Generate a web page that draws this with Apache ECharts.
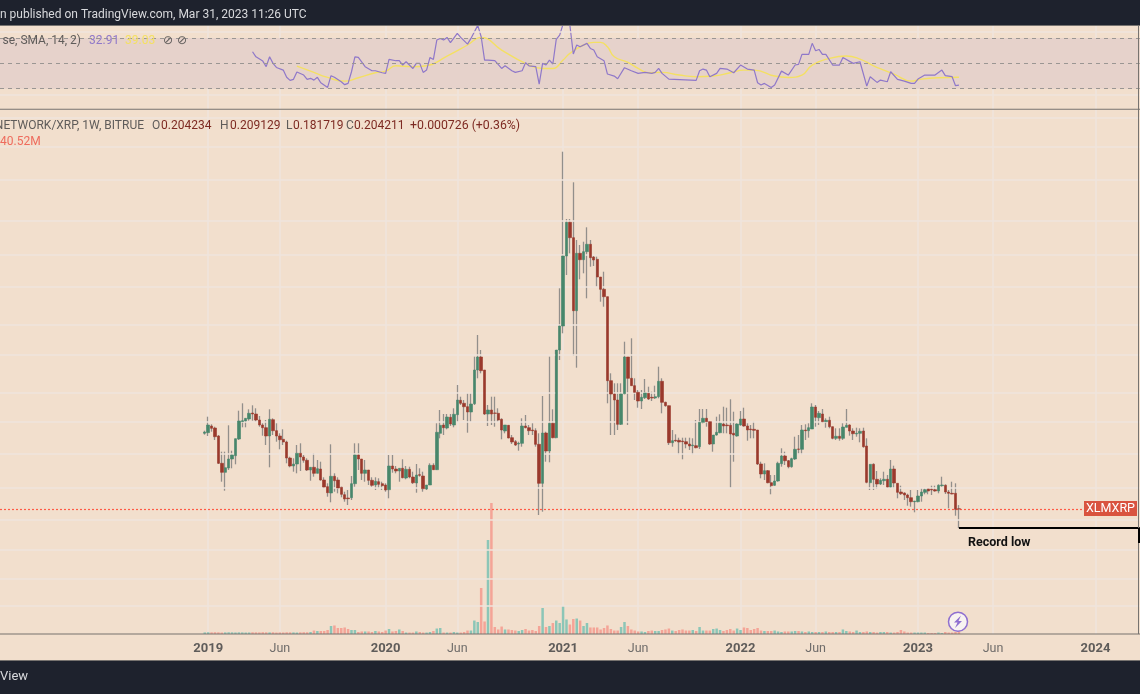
<!DOCTYPE html>
<html><head><meta charset="utf-8">
<style>html,body{margin:0;padding:0;background:#f2dfcd}#c{width:1140px;height:694px}</style>
<script src="https://cdn.jsdelivr.net/npm/echarts@6/dist/echarts.min.js"></script>
</head><body><div id="c"></div>
<script>
// Prices are held in log-scale points relative to the last close (0 = 0.2042, 1 point = about 0.61 %).
const opens=[75.7,76.3,83,81,73,45.7,36.7,41,50,53.3,70,87.3,88,90,96,95,89,84,81.3,73,89.3,78.3,73,69.7,67,51,43,45,55.7,52,48.7,39,41.7,35.7,40,29,22.3,16,32.7,29,21.7,14.3,11,11.3,25.3,54,50,35.7,39,28.7,24,27.3,25.3,24,19.3,43,40,38,40.7,31,39.7,32,26,34.3,33,20,24,43.7,39.3,75.7,84,81,91.7,84,94.3,108.7,105.7,102.3,97,105.3,139,152,139,95,99,96,95.7,89.7,78,83.7,71.3,67.3,65,65.7,83,81.3,79,78.3,64.7,25.7,76,58,85.7,71.3,159,183,253,286.7,271.3,198.3,255.7,249.3,257.3,264.7,252,249.7,232,219.7,212.3,128.3,115,109,84.7,115.3,152,130.7,123.3,116.7,108,111.3,115.7,111.7,111,112.3,127.7,106.7,103.3,66.3,68.7,68.7,68,67.3,65,63.3,63.3,62.3,86.7,90.7,87.3,65,74,76.3,85,84,83.7,75.7,73,84,90,83,80,79.7,79,45,35,38.3,26.3,23.7,28,45.3,53,48.3,42.3,50,60,59.7,79,78.3,80,102,91.3,95,87.3,88.7,82.3,70.7,72.7,70.7,81.7,84,78,75,75.7,78,63,26.3,44.7,29.7,25,28.3,29.7,22,40,25.7,17,16,14,11.3,7.3,7.3,13,16.7,20,19.7,19.3,18,23.3,23.7,17,15.7,15.7,0.2];
const closes=[77,84,80.7,72.3,45.7,36.7,41.3,50,54,70.3,88,88.3,90.7,95.7,95,89,84,81.3,73,89.7,78.3,73,69.3,67,51,43,45,55.7,52,48.7,39,41.7,35.7,40.3,29,22,16.3,32.7,28.3,21,14.7,10,10.3,25.3,54,50,35.7,39,28.7,23.7,27.7,24.7,23.3,19,43,40,38,40.7,31.3,39.7,32,26.3,34,33.7,20.3,24,43.7,39.3,76.7,83.7,81.3,92,85,94.7,109,105.7,102.3,97,105,139,152,138.3,95,99,95,95.7,89,79,84,71,67,64,65.7,83,81.3,78.3,78.3,64.7,25.7,76,58,85.7,71.3,159,183,253,286.7,271.3,198.3,255.7,249.3,257.3,264.7,251.3,249,232,219.7,212.3,128.3,115,109,84.7,115,152,130.7,123.3,116.7,108,111.7,116,110,111,112.3,127.7,106.7,103.3,66.3,68.3,68,67,67.3,65,63,64,61.3,86.7,90.7,87.3,65,74,76.7,85.7,83,83.3,75,74,85,90,83,79,79.3,78.7,45,35,38.3,26.3,23.3,28,45.7,53,48.3,42.3,50.3,59.7,59.7,79,78.3,81.3,102,91.7,95.7,87.3,88.7,82.3,70.7,72.7,70.7,82,83.7,78,75.3,75.7,77.7,62.3,26.7,44.7,29.7,25,28.7,29.7,22,40,26,16.7,15.3,14,11.3,7.3,8,13,17,19.3,18,19,18,23.7,24,17,15.7,15,-0.3,0];
const lows=[74.3,73,77.3,69,45,27.3,18.3,39,40.7,44.7,69,81.7,81.7,88.3,88.3,87.3,82.3,73.3,64,41.7,74,67.3,59.7,64,45.7,41.7,37.3,35.7,38,46.3,38,28.3,32.3,35.7,28.3,20.7,12.3,6.7,17.3,15.7,11.7,7.3,4,9,22.3,39,29,27.3,24,22.3,19,20.7,19,17.3,10.7,36.3,35.7,27.3,30.7,29.7,30.7,25,16.3,32.3,17.3,19,24,39,39,70.7,74,79.7,83,81.7,87.3,104,89,76.3,87.3,104,130.7,135.7,94,83,84,82.3,87.3,69.7,75.7,70.7,65,63,58.3,62.3,80.7,74,74,62.3,-6,-2.7,47.3,46.7,70.7,70.7,149,175.7,234,255.7,153.3,141.3,229.7,235.7,210.7,242.3,243,222.3,207.3,202.3,105.7,74,74,79,84,114.7,84,123.3,109,101.3,100,110,109,108,110,110.7,95.7,102.3,64,62.3,67.3,54.7,49.7,60.7,59,54.7,60.7,60,85.7,82.3,64,57.3,73.3,75.7,75.7,75.7,21.3,47.3,72.3,83.3,82.3,68.3,70.7,70.7,44,30.7,29,25.7,14.7,23.3,27.3,42.3,44,40.7,41.3,49,54.7,54.7,69,71.3,80,82.3,84,86.7,81.3,80.7,69.7,69,68.3,69,81.7,73.3,69,72.3,66.7,61.3,25.7,19,19,20,24,24,21.3,21.3,20.7,10.7,14,9,3.3,2.3,-3.3,6.7,7.3,14.7,14.7,14,17.3,15.7,22.3,15,0.7,14.7,-6.7,-19];
const highs=[78.3,92.3,84.7,82.3,74,57.3,57.3,83.7,58.3,70.3,98.3,105.7,90.7,99.7,103.7,100.7,93,85.7,89,99.7,90.7,85.7,75.7,79.7,68.3,52.3,50.7,64,65.7,54,50.7,41.7,55.7,49,47.3,31.7,25.7,64.7,35.7,31.7,22.3,17.3,19,33,65.7,65.7,50,49,39,31.7,31.7,30.7,27.3,25.7,54,54,43,40.7,49.7,43,42.3,37.3,45,40.7,37.3,24,45.7,45.7,85.7,99,95,95,95,100.7,124,112.3,109,115.7,115.7,152.3,174,159,139,104,112.3,112.3,100.7,90.7,84,84,74,69,67.3,90.7,94,84,85.7,80.7,75.7,113,77.3,152.3,99.7,159,220.7,357.3,290,290,326.7,269,264,267.3,281.7,269,253,252.3,232,237.3,212.3,135.7,125.7,125.7,125.7,167.3,152,170.7,130.7,119,119,130,122.3,117.3,123.3,142.3,130.7,107.3,103.3,79,74.7,71.3,71.3,71.3,71.3,70.7,89,100,100,100,88,74,92.3,94.7,102.3,101.3,109.7,97.3,85.7,98,101.3,85.7,84,87.3,79,47.3,45.7,39,34,34,47.3,60.7,57.3,49,51.3,72.3,74,84,84.7,85.7,105.7,104,98,100,90.7,92.3,82.3,80.7,80.7,85.7,100,84.7,80.7,81.3,80.7,81.3,70.7,44.7,45.7,38,30.7,37.3,34,49,43.3,25.7,23.3,16.7,15.3,19,8,19,20.7,20.7,20.7,23.3,23.3,24.7,32.3,24.7,19,27.3,25.7,3.9];
// Weekly volume, millions
const volumes=[24,26,25,27,25,22,24,26,25,23,25,24,22,23,26,25,24,27,25,24,26,22,24,23,26,25,24,22,25,27,26,30,52,45,45,45,60,120,128,90,90,98,75,60,60,30,38,38,38,30,45,38,30,52,75,38,45,68,45,22,22,22,38,30,22,22,30,45,82,90,22,22,22,30,22,22,30,52,52,202,180,690,188,1410,1965,105,68,112,68,68,60,52,45,60,75,52,60,45,120,390,105,120,165,202,165,420,218,142,225,232,202,120,165,98,98,98,68,90,128,75,52,52,105,180,120,68,52,38,38,30,45,52,45,45,60,68,82,52,45,60,68,52,52,60,45,105,52,52,52,75,82,60,45,60,75,52,82,60,98,90,60,75,90,52,45,45,45,52,38,30,38,38,38,45,45,38,30,38,30,30,30,30,38,30,30,30,30,68,45,38,30,52,30,30,38,30,30,22,30,30,30,22,22,30,60,38,22,22,22,22,22,22,15,15,15,22,15,30,22,22,30,40.52];
// RSI read at its turning points: week number, value
const rsiWeeks=[14,15,17,18,19,20,21,23,24,25,26,27,29,30,31,32,33,34,36,37,38,40,41,42,43,44,45,47,49,50,52,53,54,56,57,58,59,61,62,63,64,65,66,67,68,69,70,71,72,74,75,77,78,80,81,82,83,85,87,88,90,91,93,94,95,97,98,99,100,101,102,103,104,105,106,107,108,109,110,112,113,114,115,117,118,120,121,123,125,127,129,131,132,133,134,136,144,145,146,147,148,150,151,153,155,157,159,161,162,163,164,166,167,169,171,173,174,175,177,178,179,180,181,182,184,186,187,190,192,194,195,197,198,200,201,203,205,207,208,209,211,214,216,217,219,220,221];
const rsiValues=[59.2,55.2,51.8,47.4,55.2,50,46.8,44.7,39,36.6,37.4,43.2,40.8,37.4,38.2,36.8,39,34.7,31,40.3,39,35.5,33.2,34.2,43.4,55.2,54.7,47.4,44.2,44.2,42.6,42.1,53.1,52.1,52.1,48.7,51.3,46,50,50,42.9,44.7,54.7,53.1,68.4,69.7,68.4,70.5,66.3,73.7,70.5,65.2,69.7,80,71,52.6,52.6,52.1,46,48.1,44.2,42.9,44.2,50.5,48.1,47.4,33.7,50,48.7,52.6,49.5,68.9,72.3,81,88,80,57.4,64.5,63.1,65.8,61.8,60.5,55.2,52.1,41.6,40,37.9,46.6,44.2,42.1,42.9,42.1,42.9,46,42.1,37.6,36.6,44.2,45.5,44.7,39.5,42.1,46,45.5,42.6,48.7,45.5,44.7,34.7,32.9,34.2,31,32.9,43.9,40.8,48.7,49.2,57.1,57.1,65.8,60,61,57.1,57.1,48.7,48.7,54.7,50,51.3,32.1,39.5,35,36.8,35.5,43.4,37.4,36,34.2,34.2,37.6,40.8,40.8,44.7,40.3,39.5,32.4,32.91];
// RSI moving average
const maWeeks=[27,31,36,41,45,50,53,56,61,65,71,77,81,87,94,99,102,105,107,111,114,116,118,120,124,127,130,134,139,144,149,154,158,161,167,171,175,178,183,188,192,196,199,202,207,210,215,221];
const maValues=[47.9,43.9,38.9,36,38.7,42.6,43.9,48.1,47.4,48.1,55.8,64.5,70.5,60.5,50,46,46,52.6,57.9,64.5,66.6,66.6,63.1,55.2,50.8,46,42.6,42.9,40.8,39.5,40,42.6,44.7,44.7,40,38.9,40.8,48.7,53.9,55.8,53.4,48.1,44.7,41.6,36,37.6,38.7,39.03];
const tickWeeks=[1,22,53,74,105,127,157,179,209,231,261];
const tickLabels=['2019','Jun','2020','Jun','2021','Jun','2022','Jun','2023','Jun','2024'];
const priceGridLevels=[391,362,329,288,254,222,184,154,116,87,55,21,-11,-41,-70,-97];
const rsiGridLevels=[74.7,25];
const rsiLevels=[70,50,30];
const lastClose=0, recordLow=-19;

const PAD=60, SLOTS=335;
const categories=Array.from({length:SLOTS},(_,i)=>String(i));
const labelFor={};tickWeeks.forEach((w,i)=>labelFor[w+PAD]=tickLabels[i]);
const isTick=(i)=>labelFor[i]!==undefined;
const GREEN='#47876b',RED='#9a392c';
const lead=()=>Array.from({length:PAD},()=>['-','-','-','-']);
const wickData=lead().concat(opens.map((o,i)=>[o,closes[i],lows[i],highs[i]]));
const bodyData=lead().concat(opens.map((o,i)=>[o,closes[i],Math.min(o,closes[i]),Math.max(o,closes[i])]));
const volData=volumes.map((v,i)=>({value:[i+PAD,v],itemStyle:{color:closes[i]>=opens[i]?'#8cc6b7':'#f4a497'}}));
const GRID='#efe5dc';
const gridLineMark=(vals)=>({silent:true,symbol:'none',label:{show:false},animation:false,lineStyle:{color:GRID,width:1.5,type:'solid'},data:vals.map(v=>({yAxis:v}))});
const xBase=(gi,labels)=>({type:'category',gridIndex:gi,data:categories,boundaryGap:false,axisLine:{show:false},axisTick:{show:false},
  splitLine:{show:true,interval:(i)=>isTick(i),lineStyle:{color:GRID,width:1.5}},
  axisLabel:labels?{show:true,interval:(i)=>isTick(i),margin:8,hideOverlap:false,
    formatter:(v,i)=>{const t=labelFor[i];return t==='Jun'?'{m|Jun}':'{y|'+t+'}';},
    rich:{y:{fontFamily:'Roboto',fontSize:13,fontWeight:700,color:'#5f5c5a'},m:{fontFamily:'Roboto',fontSize:12.5,color:'#6f6c6a'}}}:{show:false}});
const F='Roboto';
const txt=(x,y,text,fill,extra)=>({type:'text',z:50,style:Object.assign({x,y,text,fill,font:'12px '+F,textVerticalAlign:'middle'},extra||{})});
const rect=(x,y,w,h,fill)=>({type:'rect',z:40,shape:{x,y,width:w,height:h},style:{fill}});
const DARK='#1e222d',LINE='#77736f',OLHC='#7d2a22',MUTE='#5f5c5a';
const f12={font:'12px '+F};
const chart=echarts.init(document.getElementById('c'),null,{renderer:'canvas',width:1140,height:694});
chart.setOption({
 animation:false,backgroundColor:'#f2dfcd',
 grid:[{left:-1.16,width:1140.96,top:110,height:524},{left:-1.16,width:1140.96,top:26,height:83}],
 xAxis:[xBase(0,true),xBase(1,false)],
 yAxis:[
  {type:'value',gridIndex:0,min:-125,max:399,show:false,splitLine:{show:false}},
  {type:'value',gridIndex:0,min:0,max:7860,show:false,splitLine:{show:false}},
  {type:'value',gridIndex:1,min:14,max:79.5,show:false,splitLine:{show:false}}],
 series:[
  {type:'line',xAxisIndex:0,yAxisIndex:0,data:[],z:1,markLine:gridLineMark(priceGridLevels)},
  {type:'line',xAxisIndex:1,yAxisIndex:2,data:[],z:1,markLine:gridLineMark(rsiGridLevels),
   markArea:{silent:true,itemStyle:{color:'#e6d2cb'},data:[[{yAxis:70},{yAxis:30}]]}},
  {type:'bar',xAxisIndex:0,yAxisIndex:1,data:volData,barWidth:2.5,z:2},
  {type:'line',xAxisIndex:0,yAxisIndex:0,data:[],z:3,markLine:{silent:true,symbol:'none',label:{show:false},
    lineStyle:{color:'#ff5a45',width:1.2,type:[2,2],opacity:1},data:[[{coord:[0,lastClose]},{coord:[318,lastClose]}]]}},
  {type:'candlestick',xAxisIndex:0,yAxisIndex:0,data:wickData,barWidth:1.3,z:4,
   itemStyle:{color:'#928f8b',color0:'#928f8b',borderColor:'#928f8b',borderColor0:'#928f8b',borderWidth:1.3}},
  {type:'candlestick',xAxisIndex:0,yAxisIndex:0,data:bodyData,barWidth:2.9,z:5,
   itemStyle:{color:GREEN,color0:RED,borderColor:GREEN,borderColor0:RED,borderWidth:0.6}},
  {type:'line',xAxisIndex:0,yAxisIndex:0,data:[],z:6,markLine:{silent:true,symbol:'none',label:{show:false},
    lineStyle:{color:'#000',width:2,type:'solid'},data:[[{coord:[221+PAD,recordLow]},{coord:[SLOTS-1,recordLow]}]]}},
  {type:'line',xAxisIndex:1,yAxisIndex:2,data:[],z:2,markLine:{silent:true,symbol:'none',label:{show:false},
    lineStyle:{color:'#9a9693',width:1,type:[4,4]},data:rsiLevels.map(v=>({yAxis:v}))}},
  {type:'line',xAxisIndex:1,yAxisIndex:2,data:maWeeks.map((w,i)=>[w+PAD,maValues[i]]),smooth:0.5,showSymbol:false,z:3,lineStyle:{color:'#f4e063',width:1.4}},
  {type:'line',xAxisIndex:1,yAxisIndex:2,data:rsiWeeks.map((w,i)=>[w+PAD,rsiValues[i]]),showSymbol:false,z:4,lineStyle:{color:'#8f78c9',width:1.2}}
 ],
 graphic:{elements:[
  rect(0,0,1140,25.5,DARK),rect(0,660.5,1140,33.5,DARK),
  rect(0,25,1140,1,LINE),rect(0,108.8,1140,1,LINE),rect(0,633.6,1140,1,LINE),rect(0,660,1140,1,LINE),
  rect(1138,26,1,608,LINE),rect(1138,528,2,15,'#000'),
  rect(1084,501,53,15,'#d9533f'),
  txt(1110.5,508.7,'XLMXRP','#fff',{textAlign:'center',font:'12.5px '+F}),
  txt(968,542.5,'Record low','#111',{font:'bold 12.5px '+F}),
  txt(0,15,'n published on TradingView.com, Mar 31, 2023 11:26 UTC','#d8d9dc',f12),
  txt(0,677,'View','#d8d9dc',{font:'13px '+F}),
  txt(81,41,'se, SMA, 14, 2)',MUTE,{textAlign:'right',font:'12px '+F}),
  txt(89,41,'32.91','#8f78c9',f12),
  txt(125,41,'39.03','#f4e063',f12),
  txt(163,41,'\u2298',MUTE,{font:'12px DejaVu Sans'}),
  txt(177,41,'\u2298',MUTE,{font:'12px DejaVu Sans'}),
  txt(144,125.5,'NETWORK/XRP, 1W, BITRUE',MUTE,{textAlign:'right',font:'12px '+F}),
  txt(152,125.5,'O',MUTE,f12),txt(161,125.5,'0.204234',OLHC,f12),
  txt(220,125.5,'H',MUTE,f12),txt(230,125.5,'0.209129',OLHC,f12),
  txt(286,125.5,'L',MUTE,f12),txt(293,125.5,'0.181719',OLHC,f12),
  txt(346,125.5,'C',MUTE,f12),txt(354,125.5,'0.204211',OLHC,f12),
  txt(410,125.5,'+0.000726 (+0.36%)',OLHC,{font:'12.3px '+F}),
  txt(0,141.5,'40.52M','#ee6b5d',f12),
  {type:'circle',z:45,shape:{cx:958,cy:621.7,r:9.5},style:{fill:'#f8f3f1',stroke:'#8f6fd0',lineWidth:1.5}},
  {type:'polygon',z:46,shape:{points:[[961,615.5],[954,622.5],[957.5,622.5],[955,628],[962,621],[958.5,621]]},style:{fill:'#8f6fd0'}}
 ]}
});
</script></body></html>
